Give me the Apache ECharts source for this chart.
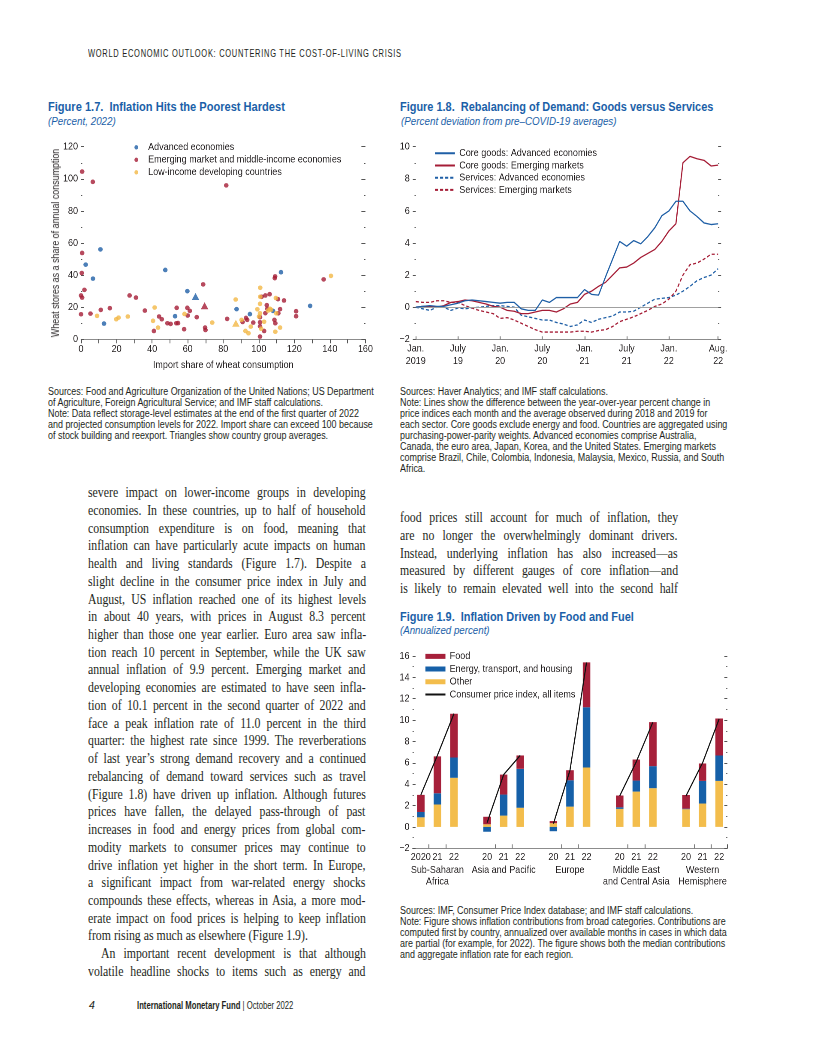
<!DOCTYPE html>
<html><head><meta charset="utf-8">
<script src="https://cdn.jsdelivr.net/npm/echarts@6/dist/echarts.min.js"></script>
<style>
body{margin:0;width:816px;height:1056px;position:relative;background:#fff;overflow:hidden;
 font-family:"Liberation Sans",Arial,sans-serif;color:#231f20}
.abs{position:absolute;white-space:nowrap;transform-origin:0 0}
.hdr{left:88px;top:46.5px;font-size:10.5px;letter-spacing:1px;line-height:12px}
.ttl{font-weight:bold;color:#1b5fa8;font-size:13.5px;line-height:14px}
.sub{font-style:italic;color:#1b5fa8;font-size:11px;line-height:12px}
.note{font-size:10px;line-height:11px}
.col{position:absolute;font-family:"Liberation Serif","DejaVu Serif",serif;font-size:13.6px;line-height:17.74px;
 transform:scaleX(0.868);transform-origin:0 0;width:320px;color:#231f20}
.col div{white-space:nowrap;height:17.74px}
.chart{position:absolute;overflow:visible}
.foot{top:999px;font-size:10.5px;line-height:12px}
#yname{position:absolute;left:55px;top:243px;font-size:10.5px;line-height:12px;white-space:nowrap;color:#231f20}
</style></head>
<body>
<div class="abs hdr" data-w="314">WORLD ECONOMIC OUTLOOK: COUNTERING THE COST-OF-LIVING CRISIS</div>

<div class="abs ttl" data-w="237" style="left:48px;top:100.3px">Figure 1.7.&nbsp; Inflation Hits the Poorest Hardest</div>
<div class="abs sub" data-w="68" style="left:48px;top:115px">(Percent, 2022)</div>
<div class="abs ttl" data-w="313" style="left:400px;top:100.3px">Figure 1.8.&nbsp; Rebalancing of Demand: Goods versus Services</div>
<div class="abs sub" data-w="216" style="left:400.5px;top:115px">(Percent deviation from pre–COVID-19 averages)</div>
<div class="abs ttl" data-w="234" style="left:400px;top:609.7px">Figure 1.9.&nbsp; Inflation Driven by Food and Fuel</div>
<div class="abs sub" data-w="90" style="left:400px;top:624px">(Annualized percent)</div>

<div id="c1" class="chart" style="left:40px;top:135px;width:340px;height:245px"></div>
<div id="c2" class="chart" style="left:395px;top:135px;width:345px;height:245px"></div>
<div id="c3" class="chart" style="left:395px;top:645px;width:345px;height:250px"></div>
<div id="yname">Wheat stores as a share of annual consumption</div>

<div id="n1" class="abs note" style="left:48px;top:385.5px">Sources: Food and Agriculture Organization of the United Nations; US Department<br>of Agriculture, Foreign Agricultural Service; and IMF staff calculations.<br>Note: Data reflect storage-level estimates at the end of the first quarter of 2022<br>and projected consumption levels for 2022. Import share can exceed 100 because<br>of stock building and reexport. Triangles show country group averages.</div>
<div id="n2" class="abs note" style="left:400px;top:385.5px">Sources: Haver Analytics; and IMF staff calculations.<br>Note: Lines show the difference between the year-over-year percent change in<br>price indices each month and the average observed during 2018 and 2019 for<br>each sector. Core goods exclude energy and food. Countries are aggregated using<br>purchasing-power-parity weights. Advanced economies comprise Australia,<br>Canada, the euro area, Japan, Korea, and the United States. Emerging markets<br>comprise Brazil, Chile, Colombia, Indonesia, Malaysia, Mexico, Russia, and South<br>Africa.</div>
<div id="n3" class="abs note" style="left:400px;top:904.5px">Sources: IMF, Consumer Price Index database; and IMF staff calculations.<br>Note: Figure shows inflation contributions from broad categories. Contributions are<br>computed first by country, annualized over available months in cases in which data<br>are partial (for example, for 2022). The figure shows both the median contributions<br>and aggregate inflation rate for each region.</div>

<div id="colL" class="col" style="left:88px;top:484.1px"></div>
<div id="colR" class="col" style="left:400px;top:509.1px"></div>

<div class="abs foot" style="left:89px;font-style:italic">4</div>
<div class="abs foot" data-w="156" style="left:137px"><b>International Monetary Fund</b> | October 2022</div>

<script>
// ---------- Figure 1.7 data (import share, wheat stores) ----------
const advPts = [[10.9,56],[2.6,46.5],[6.7,37.8],[12.9,9.8],[47.4,43.2],[59.8,30],[52.9,14.4],[87.5,18.8],[95,15.7],[108,17.7],[112.5,41.8],[128.9,20.8]];
const emPts = [[0.6,104.5],[6.6,98.1],[81.7,95.9],[0.6,53.8],[0.4,41.3],[1.9,30.8],[0,27.3],[0.6,26],[0,15.6],[5.3,16],[11.1,18.3],[16.2,19.4],[27.3,27.3],[30.9,26],[35.9,17.9],[43.9,14.2],[45.4,12.5],[41,5.2],[48.6,10],[50.4,9.6],[53.8,19.6],[53.6,10],[54.6,10.1],[58,6.3],[59.8,19.6],[61.2,17.7],[60,14.8],[65.1,13.8],[68.7,34.2],[69.8,7.3],[70,5.8],[82.2,12.7],[90.9,10.8],[92.8,13.3],[93.5,12.1],[96.9,10.4],[100.7,13.8],[100.7,10.6],[100.7,8.1],[100.7,1.7],[101.6,26.5],[103.7,27.3],[106.1,28.1],[104.5,21.3],[104.8,19],[103.7,16.3],[109.2,39.2],[109,38.1],[110.8,25],[112,18.8],[111,16.2],[108.8,12.1],[109.3,10],[114.2,24.2],[121,17.5],[121,14.4],[136.5,37.3],[103,5.2]];
const licPts = [[9,14.6],[19.8,12.5],[21.1,13.5],[26.3,14.2],[41.4,19.8],[40.5,11.5],[43.3,7.3],[58.2,15.8],[73.8,10.4],[87,24.8],[90.3,12.1],[92.5,5.2],[94.2,3.8],[95.5,7.9],[99.2,18.7],[100.8,32.1],[100.8,26.5],[100.7,22.1],[100.7,16.2],[101.3,6.6],[103,10.9],[106.3,19],[105.2,17.9],[109.6,25.7],[109.8,16.2],[109.3,4.7],[112,7.3],[140.6,39.5],[100.1,14.2],[106.9,18.4]];
const advAvg = [64.4,26.7];
const emAvg = [69.5,20.9];
const licAvg = [87.1,10];

// ---------- Figure 1.8 data (monthly, Jan 2019 - Aug 2022) ----------
const months = ['2019-01','2019-02','2019-03','2019-04','2019-05','2019-06','2019-07','2019-08','2019-09','2019-10','2019-11','2019-12',
 '2020-01','2020-02','2020-03','2020-04','2020-05','2020-06','2020-07','2020-08','2020-09','2020-10','2020-11','2020-12',
 '2021-01','2021-02','2021-03','2021-04','2021-05','2021-06','2021-07','2021-08','2021-09','2021-10','2021-11','2021-12',
 '2022-01','2022-02','2022-03','2022-04','2022-05','2022-06','2022-07','2022-08'];
const coreAE = [0.0,0.05,0.1,0.05,0.05,0.15,0.25,0.4,0.45,0.4,0.35,0.3,0.25,0.3,0.3,-0.1,-0.2,-0.2,0.45,0.3,0.6,0.6,0.6,0.6,1.1,0.8,0.75,1.9,3.0,4.1,3.8,4.15,3.95,4.4,4.95,5.7,6.0,6.6,6.6,6.0,5.65,5.25,5.15,5.2];
const coreEM = [0.0,0.05,0.05,0.0,0.1,0.3,0.35,0.45,0.4,0.3,0.2,0.05,0.0,-0.2,-0.25,-0.4,-0.4,-0.3,-0.2,-0.2,-0.3,-0.1,0.2,0.3,0.8,1.0,1.3,1.55,2.0,2.45,2.5,2.75,3.1,3.35,3.6,4.1,4.75,5.2,9.0,9.4,9.25,9.15,8.8,8.85];
const servAE = [0.0,-0.1,-0.2,0.0,0.0,-0.2,-0.05,-0.1,-0.05,0.0,0.05,0.1,0.1,0.05,0.0,-0.5,-0.6,-0.7,-0.8,-0.8,-0.95,-1.05,-1.2,-1.1,-0.8,-0.95,-0.75,-0.65,-0.55,-0.3,-0.3,-0.25,0.0,0.25,0.5,0.55,0.6,0.75,1.0,1.3,1.65,1.85,2.0,2.4];
const servEM = [0.35,0.3,0.3,0.4,0.4,0.3,0.3,0.1,-0.05,-0.2,-0.3,-0.4,-0.7,-0.65,-0.8,-1.0,-1.2,-1.4,-1.55,-1.55,-1.55,-1.55,-1.55,-1.5,-1.5,-1.55,-1.45,-1.4,-1.2,-0.9,-0.75,-0.6,-0.4,-0.2,0.05,0.2,0.5,1.0,2.0,2.65,2.75,3.0,3.3,3.3];
const monthTickIdx = [0,6,12,18,24,30,36,43];
const monthTickText = ['Jan.\n2019','July\n19','Jan.\n20','July\n20','Jan.\n21','July\n21','Jan.\n22','Aug.\n22'];

// ---------- Figure 1.9 data ----------
const barCats = ['SSA20','SSA21','SSA22','gap1','AP20','AP21','AP22','gap2','EU20','EU21','EU22','gap3','ME20','ME21','ME22','gap4','WH20','WH21','WH22'];
const barYearText = ['2020','21','22','','20','21','22','','20','21','22','','20','21','22','','20','21','22'];
const barGroupText = ['','Sub-Saharan\nAfrica','','','','Asia and Pacific','','','','Europe','','','','Middle East\nand Central Asia','','','','Western\nHemisphere',''];
const food   = [1.6,3.45,4.1,null, 0.7,1.87,1.25,null, 0.2,0.94,4.2,null, 1.1,1.97,4.12,null, 1.28,1.63,3.46];
const energy = [0.5,1.05,1.9,null, -0.45,1.97,3.64,null, -0.4,2.47,5.64,null, 0.15,1.03,2.06,null, 0.05,2.12,2.38];
const other  = [0.9,2.1,4.6,null, 0.25,1.06,1.8,null, 0.35,1.9,5.56,null, 1.69,3.31,3.63,null, 1.66,2.19,4.31];
const cpiAll = [3.0,6.7,10.6,null, 0.4,4.9,6.7,null, 0.3,5.3,15.4,null, 2.9,6.1,9.8,null, 2.9,6.0,10.1];

// ---------- body text ----------
const leftLines = [
 'severe impact on lower-income groups in developing',
 'economies. In these countries, up to half of household',
 'consumption expenditure is on food, meaning that',
 'inflation can have particularly acute impacts on human',
 'health and living standards (Figure 1.7). Despite a',
 'slight decline in the consumer price index in July and',
 'August, US inflation reached one of its highest levels',
 'in about 40 years, with prices in August 8.3 percent',
 'higher than those one year earlier. Euro area saw infla-',
 'tion reach 10 percent in September, while the UK saw',
 'annual inflation of 9.9 percent. Emerging market and',
 'developing economies are estimated to have seen infla-',
 'tion of 10.1 percent in the second quarter of 2022 and',
 'face a peak inflation rate of 11.0 percent in the third',
 'quarter: the highest rate since 1999. The reverberations',
 'of last year’s strong demand recovery and a continued',
 'rebalancing of demand toward services such as travel',
 '(Figure 1.8) have driven up inflation. Although futures',
 'prices have fallen, the delayed pass-through of past',
 'increases in food and energy prices from global com-',
 'modity markets to consumer prices may continue to',
 'drive inflation yet higher in the short term. In Europe,',
 'a significant impact from war-related energy shocks',
 'compounds these effects, whereas in Asia, a more mod-',
 'erate impact on food prices is helping to keep inflation',
 '~from rising as much as elsewhere (Figure 1.9).',
 '>An important recent development is that although',
 'volatile headline shocks to items such as energy and'
];
const rightLines = [
 'food prices still account for much of inflation, they',
 'are no longer the overwhelmingly dominant drivers.',
 'Instead, underlying inflation has also increased—as',
 'measured by different gauges of core inflation—and',
 'is likely to remain elevated well into the second half'
];

function layoutCol(id, lines, W){
  const el = document.getElementById(id);
  lines.forEach(raw => {
    let t = raw, last = false, indent = 0;
    if (t[0] === '~') { last = true; t = t.slice(1); }
    if (t[0] === '>') { indent = 15; t = t.slice(1); }
    const d = document.createElement('div');
    d.style.paddingLeft = indent + 'px';
    const s = document.createElement('span');
    s.textContent = t;
    d.appendChild(s);
    el.appendChild(d);
    if (!last) {
      const w = s.offsetWidth;
      const n = (t.match(/ /g) || []).length;
      if (n) s.style.wordSpacing = ((W - indent - w) / n) + 'px';
    }
  });
}
layoutCol('colL', leftLines, 320);
layoutCol('colR', rightLines, 320);

// condense sans text blocks to their reference widths
document.querySelectorAll('[data-w]').forEach(el => {
  el.style.transform = 'scaleX(' + (parseFloat(el.dataset.w) / el.offsetWidth) + ')';
});
(function(){
  const n3 = document.getElementById('n3');
  const k = 327 / n3.offsetWidth;
  ['n1','n2','n3'].forEach(id => { document.getElementById(id).style.transform = 'scaleX(' + k + ')'; });
  const yn = document.getElementById('yname');
  const ky = 188 / yn.offsetWidth;
  yn.style.transformOrigin = '50% 50%';
  yn.style.transform = 'translate(-50%,-50%) rotate(-90deg) scaleX(' + ky + ')';
})();

// ---------- charts ----------
const FF = '"Liberation Sans",Arial,sans-serif';
const FS = 10.5;
const TXT = '#231f20';
const BLUE = '#1f5fa6', RED = '#a51d36', YEL = '#f3b846';
const TICK = '#555';
const ELLIPSE = 'path://M0,50 A50,50 0 1,1 100,50 A50,50 0 1,1 0,50 Z';

// horizontal condensation factor so canvas text matches the condensed reference face
const S = (function(){
  const ctx = document.createElement('canvas').getContext('2d');
  ctx.font = FS + 'px ' + FF;
  const w = ctx.measureText('Emerging market and middle-income economies').width;
  return Math.max(0.6, Math.min(1, 193 / w));
})();

function mkChart(id, w, h){
  const wrap = document.getElementById(id);
  const inner = document.createElement('div');
  inner.style.cssText = 'position:absolute;left:0;top:0;width:' + (w / S) + 'px;height:' + h + 'px;transform:scaleX(' + S + ');transform-origin:0 0;';
  wrap.appendChild(inner);
  return echarts.init(inner, null, {renderer:'canvas', width: w / S, height: h, devicePixelRatio: 2});
}
function fmtMinus(v){ return v < 0 ? '\u2212' + Math.abs(v) : String(v); }
const lbl = {fontFamily:FF, fontSize:FS, color:TXT};

// Figure 1.7
const c1 = mkChart('c1', 340, 245);
c1.setOption({
  animation:false,
  textStyle:{fontFamily:FF, color:TXT},
  grid:{left:41/S, top:11.7, width:284/S, height:192.6, containLabel:false, outerBoundsMode:'none'},
  legend:{orient:'vertical', left:94.3/S, top:6.1, padding:0, itemWidth:4.4/S, itemHeight:4.4, itemGap:0,
    textStyle:Object.assign({}, lbl, {lineHeight:12.5, padding:[0,0,0,(14 - 4.4 - 5*S)/S]}),
    data:[{name:'Advanced economies', icon:ELLIPSE},{name:'Emerging market and middle-income economies', icon:ELLIPSE},{name:'Low-income developing countries', icon:ELLIPSE}]},
  xAxis:{type:'value', min:0, max:160, interval:20,
    name:'Import share of wheat consumption', nameLocation:'middle', nameGap:17,
    nameTextStyle:lbl,
    axisLine:{show:true, onZero:false, lineStyle:{color:'#8c8c8c', width:1}},
    axisTick:{show:true, length:4, lineStyle:{color:TICK}},
    minorTick:{show:true, splitNumber:2, length:4, lineStyle:{color:TICK}},
    axisLabel:Object.assign({margin:4.5}, lbl),
    splitLine:{show:false}, minorSplitLine:{show:false}},
  yAxis:[
    {type:'value', min:0, max:120, interval:20,
     axisLine:{show:false},
     axisTick:{show:true, inside:true, length:3/S, lineStyle:{color:TICK}},
     minorTick:{show:true, splitNumber:2, length:1.2/S, lineStyle:{color:TICK}},
     axisLabel:Object.assign({margin:3/S}, lbl),
     splitLine:{show:false}},
    {type:'value', position:'right', min:0, max:120, interval:20,
     axisLine:{show:false},
     axisTick:{show:true, inside:true, length:4/S, lineStyle:{color:TICK}},
     minorTick:{show:true, splitNumber:2, length:1.2/S, lineStyle:{color:TICK}},
     axisLabel:{show:false}, splitLine:{show:false}}
  ],
  series:[
    {type:'scatter', name:'Advanced economies', symbol:ELLIPSE, symbolSize:[4.6/S,4.6], itemStyle:{color:BLUE},
     data: advPts.concat([{value:advAvg, symbol:'triangle', symbolSize:[7.5/S,7]}])},
    {type:'scatter', name:'Emerging market and middle-income economies', symbol:ELLIPSE, symbolSize:[4.6/S,4.6], itemStyle:{color:RED},
     data: emPts.concat([{value:emAvg, symbol:'triangle', symbolSize:[7.5/S,7]}])},
    {type:'scatter', name:'Low-income developing countries', symbol:ELLIPSE, symbolSize:[4.6/S,4.6], itemStyle:{color:YEL},
     data: licPts.concat([{value:licAvg, symbol:'triangle', symbolSize:[7.5/S,7]}])}
  ]
});

// Figure 1.8
const c2 = mkChart('c2', 345, 245);
const lineBase = {type:'line', symbol:'none', smooth:false};
const hideSym = {opacity:0};
c2.setOption({
  animation:false,
  textStyle:{fontFamily:FF, color:TXT},
  grid:{left:20.7/S, top:11.7, width:302/S, height:192.6, containLabel:false, outerBoundsMode:'none'},
  legend:{orient:'vertical', left:39/S, top:12.2, padding:0, itemWidth:20/S, itemHeight:10, itemGap:0,
    textStyle:Object.assign({}, lbl, {lineHeight:12.2}),
    data:[{name:'Core goods: Advanced economies', itemStyle:hideSym},{name:'Core goods: Emerging markets', itemStyle:hideSym},
          {name:'Services: Advanced economies', itemStyle:hideSym},{name:'Services: Emerging markets', itemStyle:hideSym}]},
  xAxis:{type:'category', data:months, boundaryGap:false,
    axisLine:{show:true, onZero:false, lineStyle:{color:'#8c8c8c', width:1}},
    axisTick:{show:true, inside:true, length:3, lineStyle:{color:TICK},
      interval:(i)=> monthTickIdx.indexOf(i) >= 0},
    axisLabel:Object.assign({margin:3, lineHeight:12.4,
      interval:(i)=> monthTickIdx.indexOf(i) >= 0,
      formatter:(v, i)=> { const k = monthTickIdx.indexOf(i); return k >= 0 ? monthTickText[k] : ''; }}, lbl),
    splitLine:{show:false}},
  yAxis:[
    {type:'value', min:-2, max:10, interval:2,
     axisLine:{show:false},
     axisTick:{show:true, length:3/S, lineStyle:{color:TICK}},
     minorTick:{show:true, splitNumber:2, length:1.2/S, lineStyle:{color:TICK}},
     axisLabel:Object.assign({margin:6/S, formatter:fmtMinus}, lbl),
     splitLine:{show:false}},
    {type:'value', position:'right', min:-2, max:10, interval:2,
     axisLine:{show:false},
     axisTick:{show:true, length:3/S, lineStyle:{color:TICK}},
     minorTick:{show:true, splitNumber:2, length:1.2/S, lineStyle:{color:TICK}},
     axisLabel:{show:false}, splitLine:{show:false}}
  ],
  series:[
    Object.assign({}, lineBase, {name:'Core goods: Advanced economies', data:coreAE, z:5,
      lineStyle:{color:BLUE, width:1.3}, itemStyle:{color:BLUE},
      markLine:{silent:true, symbol:'none', label:{show:false}, animation:false,
        lineStyle:{color:'#a0a0a0', width:1, type:'solid'}, data:[{yAxis:0}]}}),
    Object.assign({}, lineBase, {name:'Core goods: Emerging markets', data:coreEM, z:4,
      lineStyle:{color:RED, width:1.3}, itemStyle:{color:RED}}),
    Object.assign({}, lineBase, {name:'Services: Advanced economies', data:servAE, z:3,
      lineStyle:{color:BLUE, width:1.3, type:[3.6,2.4]}, itemStyle:{color:BLUE}}),
    Object.assign({}, lineBase, {name:'Services: Emerging markets', data:servEM, z:3,
      lineStyle:{color:RED, width:1.3, type:[3.6,2.4]}, itemStyle:{color:RED}})
  ]
});

// Figure 1.9
const c3 = mkChart('c3', 345, 250);
const BFOOD = '#a6203a', BENERGY = '#1660a8', BOTHER = '#f3bd4c';
c3.setOption({
  animation:false,
  textStyle:{fontFamily:FF, color:TXT},
  grid:{left:17.5/S, top:11, width:314.5/S, height:192.3, containLabel:false, outerBoundsMode:'none'},
  legend:{orient:'vertical', left:29.5/S, top:5, padding:0, itemWidth:20/S, itemHeight:5, itemGap:0,
    textStyle:Object.assign({}, lbl, {lineHeight:12.7}),
    data:[{name:'Food', icon:'rect'},{name:'Energy, transport, and housing', icon:'rect'},{name:'Other', icon:'rect'},
          {name:'Consumer price index, all items', itemStyle:hideSym}]},
  xAxis:{type:'category', data:barCats, boundaryGap:true,
    axisLine:{show:true, onZero:false, lineStyle:{color:'#8c8c8c', width:1}},
    axisTick:{show:true, inside:true, length:4, lineStyle:{color:TICK},
      interval:(i)=> (i % 4 === 1 || i % 4 === 2)},
    axisLabel:{interval:0, margin:1.5, hideOverlap:false, fontFamily:FF, fontSize:FS, color:TXT,
      formatter:(v, i)=> {
        const g = barGroupText[i];
        let s = '{y|' + barYearText[i] + '}';
        if (g) s += '\n' + g.split('\n').map(x=>'{g|' + x + '}').join('\n');
        return s;
      },
      rich:{y:Object.assign({lineHeight:14.5}, lbl), g:Object.assign({lineHeight:11.5}, lbl)}},
    splitLine:{show:false}},
  yAxis:[
    {type:'value', min:-2, max:16, interval:2,
     axisLine:{show:false},
     axisTick:{show:true, inside:true, length:3/S, lineStyle:{color:TICK}},
     minorTick:{show:true, splitNumber:2, length:1.2/S, lineStyle:{color:TICK}},
     axisLabel:Object.assign({margin:3/S, formatter:fmtMinus}, lbl),
     splitLine:{show:false}},
    {type:'value', position:'right', min:-2, max:16, interval:2,
     axisLine:{show:false},
     axisTick:{show:true, inside:true, length:3/S, lineStyle:{color:TICK}},
     minorTick:{show:true, splitNumber:2, length:1.2/S, lineStyle:{color:TICK}},
     axisLabel:{show:false}, splitLine:{show:false}}
  ],
  series:[
    {type:'bar', name:'Other', stack:'c', barWidth:7.5/S, data:other, itemStyle:{color:BOTHER}},
    {type:'bar', name:'Energy, transport, and housing', stack:'c', barWidth:7.5/S, data:energy, itemStyle:{color:BENERGY}},
    {type:'bar', name:'Food', stack:'c', barWidth:7.5/S, data:food, itemStyle:{color:BFOOD}},
    {type:'line', name:'Consumer price index, all items', data:cpiAll, symbol:'none', connectNulls:false, z:10,
     lineStyle:{color:'#111', width:1.3}, itemStyle:{color:'#111'}}
  ]
});
</script>
</body></html>
